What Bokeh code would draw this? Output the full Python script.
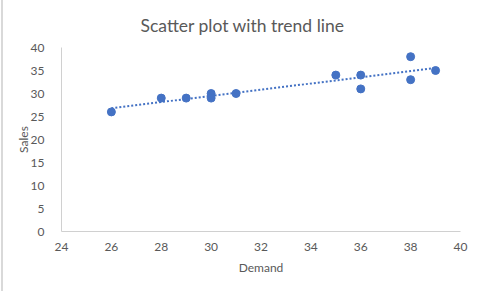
import numpy as np
from bokeh.plotting import figure
from bokeh.models import ColumnDataSource, FixedTicker, Range1d
from bokeh.embed import file_html
from bokeh.resources import INLINE

demand = [26, 28, 29, 30, 30, 31, 35, 36, 36, 38, 38, 39]
sales = [26, 29, 29, 30, 29, 30, 34, 34, 31, 38, 33, 35]
x_ticks = [24, 26, 28, 30, 32, 34, 36, 38, 40]
y_ticks = [0, 5, 10, 15, 20, 25, 30, 35, 40]
title_text = "Scatter plot with trend line"

FONT = "Lato"
GREY = "#595959"

p = figure(width=480, height=291, output_backend="svg", toolbar_location=None,
           x_range=Range1d(24, 40), y_range=Range1d(0, 40),
           min_border_left=61, min_border_right=20, min_border_top=47, min_border_bottom=60,
           frame_width=399, frame_height=184, title=title_text)
p.border_fill_color = None
p.background_fill_color = "white"
p.styles = {"background": "linear-gradient(to right, #ffffff 1px, #d9d9d9 1px, #d9d9d9 3px, #ffffff 3px)"}

p.title.align = "left"
p.title.offset = 79
p.title.text_font = FONT
p.title.text_font_size = "17.5px"
p.title.text_font_style = "normal"
p.title.text_color = GREY
p.title.standoff = 24

p.xgrid.visible = False
p.ygrid.visible = False
p.outline_line_color = None

for ax in (p.xaxis[0], p.yaxis[0]):
    ax.major_tick_line_color = None
    ax.minor_tick_line_color = None
    ax.axis_line_color = "#d0d0d0"
    ax.major_label_text_font = FONT
    ax.major_label_text_font_size = "12px"
    ax.major_label_text_color = GREY
    ax.axis_label_text_font = FONT
    ax.axis_label_text_font_size = "12px"
    ax.axis_label_text_color = GREY
    ax.axis_label_text_font_style = "normal"

p.xaxis.ticker = FixedTicker(ticks=x_ticks)
p.yaxis.ticker = FixedTicker(ticks=y_ticks)
p.xaxis.axis_label = "Demand"
p.yaxis.axis_label = "Sales"
p.xaxis.major_label_standoff = 5
p.yaxis.major_label_standoff = 11
p.xaxis.axis_label_standoff = 6
p.yaxis.axis_label_standoff = -3

# trend line (least squares fit of the data)
slope, intercept = np.polyfit(demand, sales, 1)
tx = [min(demand), max(demand)]
ty = [slope * v + intercept for v in tx]
p.line(tx, ty, line_color="#4472C4", line_width=2, line_dash="2 2")

src = ColumnDataSource(dict(x=demand, y=sales))
p.scatter("x", "y", source=src, size=8, fill_color="#4472C4", line_color="#4472C4")

open("out.html", "w").write(file_html(p, INLINE))
